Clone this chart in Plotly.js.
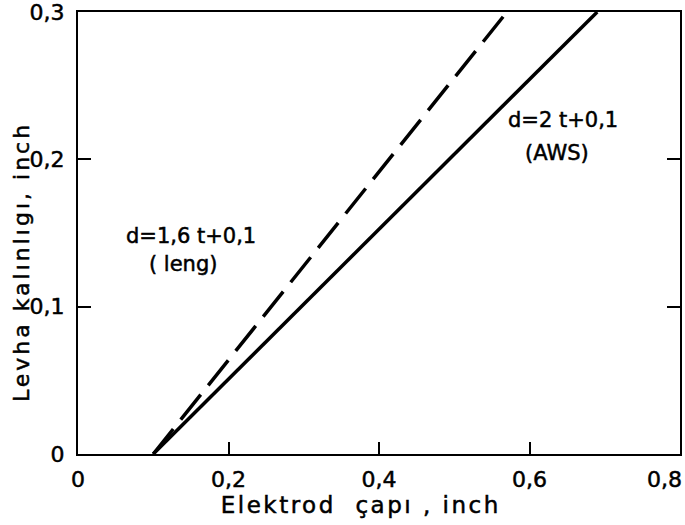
<!DOCTYPE html>
<html>
<head>
<meta charset="utf-8">
<script src="https://cdn.plot.ly/plotly-3.0.1.min.js"></script>
<style>
  html, body { margin: 0; padding: 0; background: #fff; }
  #chart { width: 685px; height: 525px; }
  #chart svg text { stroke: #000; stroke-width: 0.5px; }
  g.annotation[data-index="0"] text { letter-spacing: 2.5px; }
  g.annotation[data-index="1"] text { letter-spacing: 3px; }
</style>
</head>
<body>
<div id="chart"></div>
<script>
// Data
const xTickVals = [0, 0.2, 0.4, 0.6, 0.8];
const xTickText = ["0", "0,2", "0,4", "0,6", "0,8"];
const yTickVals = [0, 0.1, 0.2, 0.3];
const yTickText = ["0", "0,1", "0,2", "0,3"];

// d = 2t + 0,1 (AWS) — solid
const awsD = [0.1, 0.69];
const awsT = [0, 0.3];
// d = 1,6t + 0,1 (leng) — dashed
const lengD = [0.1, 0.57];
const lengT = [0, 0.3];

const xTitle = "Elektrod\u00a0\u00a0çapı\u00a0,\u00a0inch";
const yTitle = "Levha\u00a0kalınlıgı,\u00a0inch";
const awsLabel = ["d=2\u00a0t+0,1", "(AWS)"];
const lengLabel = ["d=1,6\u00a0t+0,1", "(\u00a0leng)"];

const font = "DejaVu Sans, Liberation Sans, sans-serif";
const nb = "\u00a0";

// the last x label sits flush with the right edge (as in the scan), so it is drawn as an annotation
const lastX = xTickVals.length - 1;
const xAxisText = xTickText.map((t, i) => (i === lastX ? "" : t));
const yAxisText = yTickText.map(t => t + nb);

const traces = [
  { x: awsD, y: awsT, mode: "lines", line: { color: "#000", width: 3.5 }, showlegend: false, hoverinfo: "skip" },
  { x: lengD, y: lengT, mode: "lines", line: { color: "#000", width: 3.5, dash: "32px,12px" }, showlegend: false, hoverinfo: "skip" }
];

const layout = {
  width: 685, height: 525,
  margin: { l: 78, r: 5, t: 12, b: 71 },
  paper_bgcolor: "#fff", plot_bgcolor: "#fff",
  font: { family: font, color: "#000", size: 22 },
  xaxis: {
    range: [0, 0.8], tickvals: xTickVals, ticktext: xAxisText,
    ticks: "inside", ticklen: 12, tickwidth: 2, tickcolor: "#000",
    showline: true, linecolor: "#000", linewidth: 2, mirror: true,
    showgrid: false, zeroline: false, ticklabeloverflow: "allow",
    ticklabelstandoff: 5,
    tickfont: { family: font, size: 22, color: "#000" }
  },
  yaxis: {
    range: [0, 0.3], tickvals: yTickVals, ticktext: yAxisText,
    ticks: "inside", ticklen: 13, tickwidth: 2, tickcolor: "#000",
    showline: true, linecolor: "#000", linewidth: 2, mirror: "ticks",
    showgrid: false, zeroline: false, ticklabeloverflow: "allow",
    tickfont: { family: font, size: 22, color: "#000" }
  },
  annotations: [
    { text: xTitle, xref: "paper", yref: "paper", x: 0.470, y: -0.115, xanchor: "center", yanchor: "middle", showarrow: false, font: { family: font, size: 23, color: "#000" } },
    { text: yTitle, xref: "paper", yref: "paper", x: -0.094, y: 0.434, xanchor: "center", yanchor: "middle", textangle: -90, showarrow: false, font: { family: font, size: 22, color: "#000" } },
    { text: awsLabel[0], x: 0.645, y: 0.2267, xanchor: "center", yanchor: "middle", showarrow: false, font: { family: font, size: 21, color: "#000" } },
    { text: awsLabel[1], x: 0.637, y: 0.2043, xanchor: "center", yanchor: "middle", showarrow: false, font: { family: font, size: 21, color: "#000" } },
    { text: lengLabel[0], x: 0.1495, y: 0.148, xanchor: "center", yanchor: "middle", showarrow: false, font: { family: font, size: 21, color: "#000" } },
    { text: lengLabel[1], x: 0.139, y: 0.129, xanchor: "center", yanchor: "middle", showarrow: false, font: { family: font, size: 21, color: "#000" } },
    { text: xTickText[lastX], x: xTickVals[lastX], xref: "x", y: 0, yref: "paper", xanchor: "right", yanchor: "top", xshift: 4, yshift: -11, showarrow: false, font: { family: font, size: 22, color: "#000" } }
  ]
};

Plotly.newPlot("chart", traces, layout, { staticPlot: true, displayModeBar: false });
</script>
</body>
</html>
